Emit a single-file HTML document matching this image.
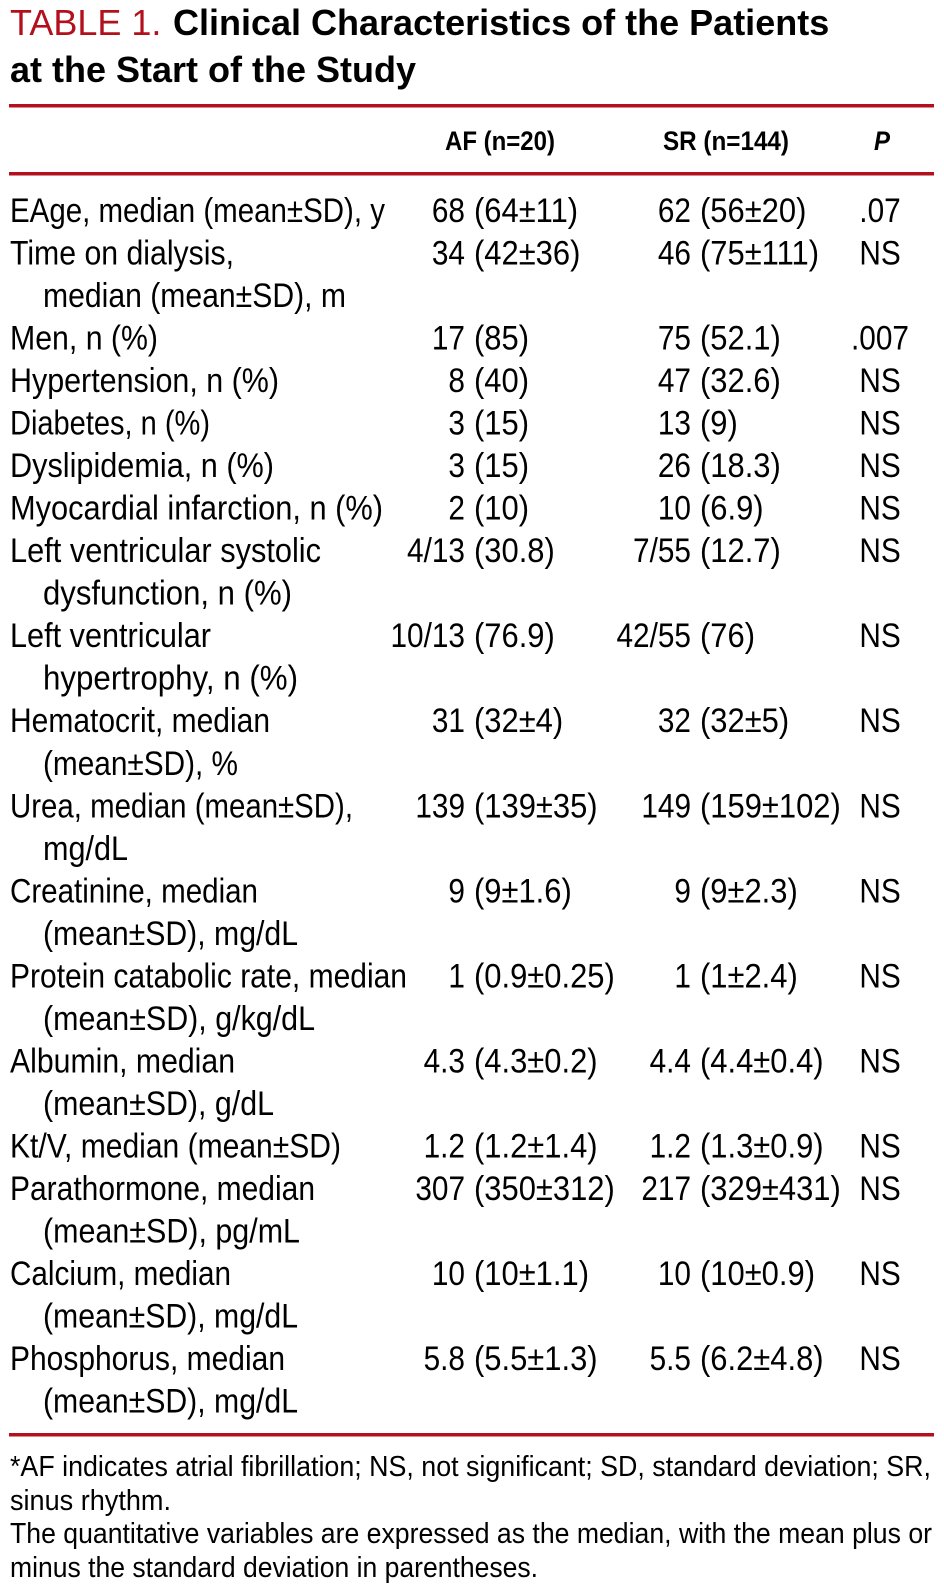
<!DOCTYPE html>
<html>
<head>
<meta charset="utf-8">
<style>
  html,body{margin:0;padding:0;background:#fff;}
  svg{display:block;}
  .t{font-family:"Liberation Sans",Arial,sans-serif;}
  .lab{font-family:"Liberation Sans",Arial,sans-serif;font-size:34px;fill:#000;}
  .val{font-family:"Liberation Sans",Arial,sans-serif;font-size:34px;fill:#000;}
  .hdr{font-family:"Liberation Sans",Arial,sans-serif;font-size:27px;font-weight:bold;fill:#000;}
  .fn{font-family:"Liberation Sans",Arial,sans-serif;font-size:29px;fill:#000;}
</style>
</head>
<body>
<svg width="944" height="1596" viewBox="0 0 944 1596" xmlns="http://www.w3.org/2000/svg">
  <rect x="0" y="0" width="944" height="1596" fill="#fff"/>

  <!-- Title -->
  <text class="t" x="10" y="35" font-size="36" fill="#b3101d">TABLE 1.</text>
  <text class="t" x="173" y="35" font-size="36" font-weight="bold" fill="#000">Clinical Characteristics of the Patients</text>
  <text class="t" x="10" y="82" font-size="36" font-weight="bold" fill="#000">at the Start of the Study</text>

  <!-- Rules -->
  <rect x="9" y="104" width="925" height="3.5" fill="#b3101d"/>
  <rect x="9" y="172" width="925" height="3.5" fill="#b3101d"/>
  <rect x="9" y="1433" width="925" height="3.5" fill="#b3101d"/>

  <!-- Header -->
  <text class="hdr" x="445" y="150" textLength="110" lengthAdjust="spacingAndGlyphs">AF (n=20)</text>
  <text class="hdr" x="663" y="150" textLength="126" lengthAdjust="spacingAndGlyphs">SR (n=144)</text>
  <text class="hdr" x="874" y="150" font-style="italic" textLength="16" lengthAdjust="spacingAndGlyphs">P</text>

  <!-- Labels -->
  <text class="lab" x="10" y="222" textLength="375" lengthAdjust="spacingAndGlyphs">EAge, median (mean±SD), y</text>
  <text class="lab" x="10" y="264.5" textLength="224" lengthAdjust="spacingAndGlyphs">Time on dialysis,</text>
  <text class="lab" x="43" y="307" textLength="303" lengthAdjust="spacingAndGlyphs">median (mean±SD), m</text>
  <text class="lab" x="10" y="349.6" textLength="148" lengthAdjust="spacingAndGlyphs">Men, n (%)</text>
  <text class="lab" x="10" y="392.1" textLength="269" lengthAdjust="spacingAndGlyphs">Hypertension, n (%)</text>
  <text class="lab" x="10" y="434.6" textLength="200" lengthAdjust="spacingAndGlyphs">Diabetes, n (%)</text>
  <text class="lab" x="10" y="477.1" textLength="264" lengthAdjust="spacingAndGlyphs">Dyslipidemia, n (%)</text>
  <text class="lab" x="10" y="519.6" textLength="373" lengthAdjust="spacingAndGlyphs">Myocardial infarction, n (%)</text>
  <text class="lab" x="10" y="562.2" textLength="311" lengthAdjust="spacingAndGlyphs">Left ventricular systolic</text>
  <text class="lab" x="43" y="604.7" textLength="249" lengthAdjust="spacingAndGlyphs">dysfunction, n (%)</text>
  <text class="lab" x="10" y="647.2" textLength="201" lengthAdjust="spacingAndGlyphs">Left ventricular</text>
  <text class="lab" x="43" y="689.7" textLength="255" lengthAdjust="spacingAndGlyphs">hypertrophy, n (%)</text>
  <text class="lab" x="10" y="732.2" textLength="260" lengthAdjust="spacingAndGlyphs">Hematocrit, median</text>
  <text class="lab" x="43" y="774.8" textLength="195" lengthAdjust="spacingAndGlyphs">(mean±SD), %</text>
  <text class="lab" x="10" y="817.3" textLength="343" lengthAdjust="spacingAndGlyphs">Urea, median (mean±SD),</text>
  <text class="lab" x="43" y="859.8" textLength="85" lengthAdjust="spacingAndGlyphs">mg/dL</text>
  <text class="lab" x="10" y="902.3" textLength="248" lengthAdjust="spacingAndGlyphs">Creatinine, median</text>
  <text class="lab" x="43" y="944.8" textLength="255" lengthAdjust="spacingAndGlyphs">(mean±SD), mg/dL</text>
  <text class="lab" x="10" y="987.4" textLength="397" lengthAdjust="spacingAndGlyphs">Protein catabolic rate, median</text>
  <text class="lab" x="43" y="1029.9" textLength="272" lengthAdjust="spacingAndGlyphs">(mean±SD), g/kg/dL</text>
  <text class="lab" x="10" y="1072.4" textLength="225" lengthAdjust="spacingAndGlyphs">Albumin, median</text>
  <text class="lab" x="43" y="1114.9" textLength="231" lengthAdjust="spacingAndGlyphs">(mean±SD), g/dL</text>
  <text class="lab" x="10" y="1157.4" textLength="331" lengthAdjust="spacingAndGlyphs">Kt/V, median (mean±SD)</text>
  <text class="lab" x="10" y="1200" textLength="305" lengthAdjust="spacingAndGlyphs">Parathormone, median</text>
  <text class="lab" x="43" y="1242.5" textLength="257" lengthAdjust="spacingAndGlyphs">(mean±SD), pg/mL</text>
  <text class="lab" x="10" y="1285" textLength="221" lengthAdjust="spacingAndGlyphs">Calcium, median</text>
  <text class="lab" x="43" y="1327.5" textLength="255" lengthAdjust="spacingAndGlyphs">(mean±SD), mg/dL</text>
  <text class="lab" x="10" y="1370" textLength="275" lengthAdjust="spacingAndGlyphs">Phosphorus, median</text>
  <text class="lab" x="43" y="1412.6" textLength="255" lengthAdjust="spacingAndGlyphs">(mean±SD), mg/dL</text>

  <!-- Values -->
  <g class="val">
    <!-- row 0 -->
    <text transform="translate(465,222) scale(0.876,1)" text-anchor="end">68</text>
    <text transform="translate(474,222) scale(0.91,1)">(64±11)</text>
    <text transform="translate(691,222) scale(0.876,1)" text-anchor="end">62</text>
    <text transform="translate(700,222) scale(0.91,1)">(56±20)</text>
    <text transform="translate(880,222) scale(0.876,1)" text-anchor="middle">.07</text>
    <!-- row 1 -->
    <text transform="translate(465,264.5) scale(0.876,1)" text-anchor="end">34</text>
    <text transform="translate(474,264.5) scale(0.91,1)">(42±36)</text>
    <text transform="translate(691,264.5) scale(0.876,1)" text-anchor="end">46</text>
    <text transform="translate(700,264.5) scale(0.91,1)">(75±111)</text>
    <text transform="translate(880,264.5) scale(0.876,1)" text-anchor="middle">NS</text>
    <!-- row 3 -->
    <text transform="translate(465,349.6) scale(0.876,1)" text-anchor="end">17</text>
    <text transform="translate(474,349.6) scale(0.91,1)">(85)</text>
    <text transform="translate(691,349.6) scale(0.876,1)" text-anchor="end">75</text>
    <text transform="translate(700,349.6) scale(0.91,1)">(52.1)</text>
    <text transform="translate(880,349.6) scale(0.876,1)" text-anchor="middle">.007</text>
    <!-- row 4 -->
    <text transform="translate(465,392.1) scale(0.876,1)" text-anchor="end">8</text>
    <text transform="translate(474,392.1) scale(0.91,1)">(40)</text>
    <text transform="translate(691,392.1) scale(0.876,1)" text-anchor="end">47</text>
    <text transform="translate(700,392.1) scale(0.91,1)">(32.6)</text>
    <text transform="translate(880,392.1) scale(0.876,1)" text-anchor="middle">NS</text>
    <!-- row 5 -->
    <text transform="translate(465,434.6) scale(0.876,1)" text-anchor="end">3</text>
    <text transform="translate(474,434.6) scale(0.91,1)">(15)</text>
    <text transform="translate(691,434.6) scale(0.876,1)" text-anchor="end">13</text>
    <text transform="translate(700,434.6) scale(0.91,1)">(9)</text>
    <text transform="translate(880,434.6) scale(0.876,1)" text-anchor="middle">NS</text>
    <!-- row 6 -->
    <text transform="translate(465,477.1) scale(0.876,1)" text-anchor="end">3</text>
    <text transform="translate(474,477.1) scale(0.91,1)">(15)</text>
    <text transform="translate(691,477.1) scale(0.876,1)" text-anchor="end">26</text>
    <text transform="translate(700,477.1) scale(0.91,1)">(18.3)</text>
    <text transform="translate(880,477.1) scale(0.876,1)" text-anchor="middle">NS</text>
    <!-- row 7 -->
    <text transform="translate(465,519.6) scale(0.876,1)" text-anchor="end">2</text>
    <text transform="translate(474,519.6) scale(0.91,1)">(10)</text>
    <text transform="translate(691,519.6) scale(0.876,1)" text-anchor="end">10</text>
    <text transform="translate(700,519.6) scale(0.91,1)">(6.9)</text>
    <text transform="translate(880,519.6) scale(0.876,1)" text-anchor="middle">NS</text>
    <!-- row 8 -->
    <text transform="translate(465,562.2) scale(0.876,1)" text-anchor="end">4/13</text>
    <text transform="translate(474,562.2) scale(0.91,1)">(30.8)</text>
    <text transform="translate(691,562.2) scale(0.876,1)" text-anchor="end">7/55</text>
    <text transform="translate(700,562.2) scale(0.91,1)">(12.7)</text>
    <text transform="translate(880,562.2) scale(0.876,1)" text-anchor="middle">NS</text>
    <!-- row 10 -->
    <text transform="translate(465,647.2) scale(0.876,1)" text-anchor="end">10/13</text>
    <text transform="translate(474,647.2) scale(0.91,1)">(76.9)</text>
    <text transform="translate(691,647.2) scale(0.876,1)" text-anchor="end">42/55</text>
    <text transform="translate(700,647.2) scale(0.91,1)">(76)</text>
    <text transform="translate(880,647.2) scale(0.876,1)" text-anchor="middle">NS</text>
    <!-- row 12 -->
    <text transform="translate(465,732.2) scale(0.876,1)" text-anchor="end">31</text>
    <text transform="translate(474,732.2) scale(0.91,1)">(32±4)</text>
    <text transform="translate(691,732.2) scale(0.876,1)" text-anchor="end">32</text>
    <text transform="translate(700,732.2) scale(0.91,1)">(32±5)</text>
    <text transform="translate(880,732.2) scale(0.876,1)" text-anchor="middle">NS</text>
    <!-- row 14 -->
    <text transform="translate(465,817.3) scale(0.876,1)" text-anchor="end">139</text>
    <text transform="translate(474,817.3) scale(0.91,1)">(139±35)</text>
    <text transform="translate(691,817.3) scale(0.876,1)" text-anchor="end">149</text>
    <text transform="translate(700,817.3) scale(0.91,1)">(159±102)</text>
    <text transform="translate(880,817.3) scale(0.876,1)" text-anchor="middle">NS</text>
    <!-- row 16 -->
    <text transform="translate(465,902.3) scale(0.876,1)" text-anchor="end">9</text>
    <text transform="translate(474,902.3) scale(0.91,1)">(9±1.6)</text>
    <text transform="translate(691,902.3) scale(0.876,1)" text-anchor="end">9</text>
    <text transform="translate(700,902.3) scale(0.91,1)">(9±2.3)</text>
    <text transform="translate(880,902.3) scale(0.876,1)" text-anchor="middle">NS</text>
    <!-- row 18 -->
    <text transform="translate(465,987.4) scale(0.876,1)" text-anchor="end">1</text>
    <text transform="translate(474,987.4) scale(0.91,1)">(0.9±0.25)</text>
    <text transform="translate(691,987.4) scale(0.876,1)" text-anchor="end">1</text>
    <text transform="translate(700,987.4) scale(0.91,1)">(1±2.4)</text>
    <text transform="translate(880,987.4) scale(0.876,1)" text-anchor="middle">NS</text>
    <!-- row 20 -->
    <text transform="translate(465,1072.4) scale(0.876,1)" text-anchor="end">4.3</text>
    <text transform="translate(474,1072.4) scale(0.91,1)">(4.3±0.2)</text>
    <text transform="translate(691,1072.4) scale(0.876,1)" text-anchor="end">4.4</text>
    <text transform="translate(700,1072.4) scale(0.91,1)">(4.4±0.4)</text>
    <text transform="translate(880,1072.4) scale(0.876,1)" text-anchor="middle">NS</text>
    <!-- row 22 -->
    <text transform="translate(465,1157.4) scale(0.876,1)" text-anchor="end">1.2</text>
    <text transform="translate(474,1157.4) scale(0.91,1)">(1.2±1.4)</text>
    <text transform="translate(691,1157.4) scale(0.876,1)" text-anchor="end">1.2</text>
    <text transform="translate(700,1157.4) scale(0.91,1)">(1.3±0.9)</text>
    <text transform="translate(880,1157.4) scale(0.876,1)" text-anchor="middle">NS</text>
    <!-- row 23 -->
    <text transform="translate(465,1200) scale(0.876,1)" text-anchor="end">307</text>
    <text transform="translate(474,1200) scale(0.91,1)">(350±312)</text>
    <text transform="translate(691,1200) scale(0.876,1)" text-anchor="end">217</text>
    <text transform="translate(700,1200) scale(0.91,1)">(329±431)</text>
    <text transform="translate(880,1200) scale(0.876,1)" text-anchor="middle">NS</text>
    <!-- row 25 -->
    <text transform="translate(465,1285) scale(0.876,1)" text-anchor="end">10</text>
    <text transform="translate(474,1285) scale(0.91,1)">(10±1.1)</text>
    <text transform="translate(691,1285) scale(0.876,1)" text-anchor="end">10</text>
    <text transform="translate(700,1285) scale(0.91,1)">(10±0.9)</text>
    <text transform="translate(880,1285) scale(0.876,1)" text-anchor="middle">NS</text>
    <!-- row 27 -->
    <text transform="translate(465,1370) scale(0.876,1)" text-anchor="end">5.8</text>
    <text transform="translate(474,1370) scale(0.91,1)">(5.5±1.3)</text>
    <text transform="translate(691,1370) scale(0.876,1)" text-anchor="end">5.5</text>
    <text transform="translate(700,1370) scale(0.91,1)">(6.2±4.8)</text>
    <text transform="translate(880,1370) scale(0.876,1)" text-anchor="middle">NS</text>
  </g>

  <!-- Footnotes -->
  <text class="fn" x="10" y="1476" textLength="921" lengthAdjust="spacingAndGlyphs">*AF indicates atrial fibrillation; NS, not significant; SD, standard deviation; SR,</text>
  <text class="fn" x="10" y="1510" textLength="161" lengthAdjust="spacingAndGlyphs">sinus rhythm.</text>
  <text class="fn" x="10" y="1543" textLength="922" lengthAdjust="spacingAndGlyphs">The quantitative variables are expressed as the median, with the mean plus or</text>
  <text class="fn" x="10" y="1577" textLength="528" lengthAdjust="spacingAndGlyphs">minus the standard deviation in parentheses.</text>
</svg>
</body>
</html>
